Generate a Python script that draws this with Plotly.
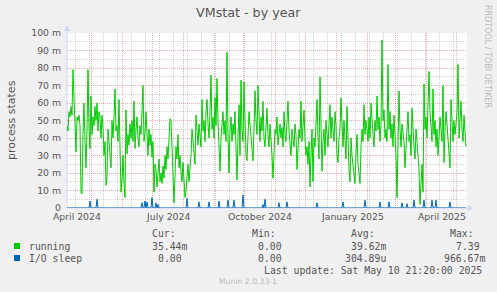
import pandas as pd
import plotly.graph_objects as go

# ---------------- data ----------------
start_date = "2024-04-07"
end_date = "2025-05-12"

# daily "running" values in milli-units (m)
running_m = [
    47, 44, 55, 52, 58, 53, 79, 60, 50, 32, 52, 50, 53, 47, 9, 8, 42, 60, 38, 23,
    45, 79, 45, 34, 64, 42, 52, 47, 58, 50, 60, 44, 55, 52, 40, 53, 46, 30, 38, 13,
    18, 45, 38, 30, 23, 50, 40, 52, 68, 44, 47, 38, 62, 35, 9, 16, 30, 14, 6, 56,
    31, 42, 36, 48, 40, 50, 38, 61, 34, 45, 52, 40, 35, 47, 42, 55, 70, 38, 43, 55,
    40, 30, 45, 36, 42, 29, 38, 9, 25, 22, 12, 18, 28, 15, 20, 14, 24, 17, 30, 22,
    35, 28, 40, 51, 50, 30, 10, 3, 18, 35, 28, 42, 23, 30, 20, 15, 26, 12, 6, 10,
    18, 25, 15, 22, 30, 45, 38, 32, 25, 53, 42, 36, 48, 41, 35, 62, 44, 50, 38, 55,
    62, 48, 40, 55, 76, 45, 52, 40, 63, 47, 74, 50, 35, 21, 40, 48, 55, 42, 50, 38,
    89, 40, 20, 45, 52, 38, 48, 42, 55, 35, 16, 40, 59, 30, 73, 45, 38, 72, 45, 30,
    27, 42, 55, 48, 40, 36, 27, 45, 67, 50, 42, 70, 48, 38, 52, 44, 61, 40, 35, 50,
    57, 42, 35, 48, 40, 30, 17, 38, 45, 42, 52, 36, 44, 48, 40, 46, 35, 55, 42, 38,
    50, 61, 44, 38, 30, 45, 40, 35, 48, 42, 22, 36, 45, 40, 61, 38, 45, 56, 40, 30,
    35, 25, 38, 12, 30, 45, 15, 40, 35, 48, 62, 40, 28, 75, 45, 21, 38, 45, 30, 50,
    42, 35, 48, 59, 40, 52, 45, 38, 55, 47, 30, 26, 40, 45, 63, 42, 35, 50, 38, 28,
    58, 35, 22, 15, 40, 30, 25, 18, 14, 32, 42, 25, 20, 14, 35, 45, 38, 59, 42, 50,
    45, 38, 52, 40, 60, 48, 42, 35, 50, 44, 64, 45, 52, 38, 48, 96, 50, 56, 40, 45,
    38, 82, 45, 55, 40, 48, 35, 53, 42, 30, 6, 40, 67, 45, 35, 48, 42, 38, 23, 40,
    45, 55, 38, 42, 30, 57, 40, 35, 28, 45, 38, 30, 22, 2, 15, 25, 9, 71, 45, 52,
    40, 62, 78, 55, 45, 38, 68, 42, 50, 35, 45, 30, 40, 52, 45, 38, 70, 26, 45, 55,
    48, 40, 30, 23, 62, 45, 38, 50, 42, 48, 55, 82, 40, 50, 61, 45, 38, 53, 42, 35,
]

# I/O sleep: zero except these days (m)
io_sleep_dates = [
    "2024-04-30", "2024-05-07", "2024-06-21", "2024-06-24", "2024-06-26",
    "2024-07-01", "2024-07-05", "2024-07-07", "2024-08-05", "2024-08-17",
    "2024-08-27", "2024-09-06", "2024-09-15", "2024-09-21", "2024-09-30",
    "2024-10-20", "2024-10-22", "2024-11-05", "2024-11-13", "2024-12-13",
    "2025-01-08", "2025-01-30", "2025-02-14", "2025-02-23", "2025-03-08",
    "2025-03-13", "2025-03-20", "2025-03-30", "2025-04-07", "2025-04-11",
    "2025-04-25",
]
io_sleep_m = [
    4, 5, 3, 4, 3.5,
    6, 3, 2, 5.5, 3.5,
    3.5, 4, 4.5, 4.5, 7.5,
    2, 5, 3, 3.5, 3,
    3.5, 4.5, 3.5, 3.5, 3,
    2.5, 4.5, 4.5, 4.5, 4.5,
    3.5,
]

month_grid_start = "2024-05-01"
week_grid_start = "2024-04-15"
x_label_dates = ["2024-04-17", "2024-07-17", "2024-10-17", "2025-01-17", "2025-04-17"]
x_label_text = ["April 2024", "July 2024", "October 2024", "January 2025", "April 2025"]
y_tick_vals = [0, 10, 20, 30, 40, 50, 60, 70, 80, 90, 100]
y_tick_text = ["0", "10 m", "20 m", "30 m", "40 m", "50 m", "60 m", "70 m", "80 m", "90 m", "100 m"]

series_names = ["running", "I/O sleep"]
series_colors = ["#00cc00", "#0066b3"]
legend_header = ["Cur:", "Min:", "Avg:", "Max:"]
running_stats = ["35.44m", "0.00", "39.62m", "7.39"]
io_stats = ["0.00", "0.00", "304.89u", "966.67m"]
last_update = "Last update: Sat May 10 21:20:00 2025"

# ---------------- build ----------------
dates = pd.date_range(start_date, periods=len(running_m), freq="D")
io_series = pd.Series(0.0, index=dates)
io_series.loc[pd.to_datetime(io_sleep_dates)] = io_sleep_m

# plot area in pixels
L, R, T, B = 67, 467, 33, 208
W, H = 497, 292


def px(x):
    return (x - L) / (R - L)


def py(y):
    return (B - y) / (B - T)


FONT = "DejaVu Sans"
MONO = "DejaVu Sans Mono"
TXT = "#555555"
AXC = "#cfd6f8"
MGRID = "rgba(230,90,90,0.5)"
GRID = "rgba(150,150,150,0.42)"

fig = go.Figure()
fig.add_trace(go.Scatter(x=dates, y=running_m, mode="lines", name=series_names[0],
                         line=dict(color=series_colors[0], width=1), hoverinfo="skip"))
fig.add_trace(go.Scatter(x=dates, y=io_series.values, mode="lines", name=series_names[1],
                         line=dict(color=series_colors[1], width=1), hoverinfo="skip"))

shapes = [
    # axes
    dict(type="line", xref="paper", yref="paper", x0=0, x1=0, y0=0, y1=py(30),
         line=dict(color=AXC, width=1), layer="between"),
    dict(type="line", xref="paper", yref="paper", x0=0, x1=px(470), y0=0, y1=0,
         line=dict(color=AXC, width=1), layer="between"),
    # arrows
    dict(type="path", xref="paper", yref="paper",
         path=f"M {px(64)},{py(31)} L {px(70)},{py(31)} L {px(67)},{py(25)} Z",
         fillcolor=AXC, line=dict(width=0)),
    dict(type="path", xref="paper", yref="paper",
         path=f"M {px(468)},{py(205)} L {px(468)},{py(211)} L {px(474)},{py(208)} Z",
         fillcolor=AXC, line=dict(width=0)),
    # legend swatches
    dict(type="rect", xref="paper", yref="paper", x0=px(14), x1=px(20), y0=py(243), y1=py(249),
         fillcolor=series_colors[0], line=dict(width=0)),
    dict(type="rect", xref="paper", yref="paper", x0=px(14), x1=px(20), y0=py(255), y1=py(261),
         fillcolor=series_colors[1], line=dict(width=0)),
]

ann = []
# title
ann.append(dict(text="VMstat - by year", xref="paper", yref="paper", x=px(248.5), y=py(13),
                xanchor="center", yanchor="middle", showarrow=False,
                font=dict(family=FONT, size=12.7, color=TXT)))
# y title
ann.append(dict(text="process states", xref="paper", yref="paper", x=px(11), y=py(120),
                xanchor="center", yanchor="middle", textangle=-90, showarrow=False,
                font=dict(family=FONT, size=11, color=TXT)))
# watermark
ann.append(dict(text="RRDTOOL / TOBI OETIKER", xref="paper", yref="paper", x=px(488), y=py(56),
                xanchor="center", yanchor="middle", textangle=90, showarrow=False,
                font=dict(family=FONT, size=8, color="#bbbbbb")))
ann.append(dict(text="Munin 2.0.33-1", xref="paper", yref="paper", x=px(248), y=py(281),
                xanchor="center", yanchor="middle", showarrow=False,
                font=dict(family=FONT, size=7.7, color="#bbbbbb")))
# x labels
for d, t in zip(x_label_dates, x_label_text):
    ann.append(dict(text=t, xref="x", yref="paper", x=d, y=py(216.5), xanchor="center",
                    yanchor="middle", showarrow=False, font=dict(family=FONT, size=9.3, color=TXT)))

# legend table
col_x = [150, 250, 349, 448]
for cx, h in zip(col_x, legend_header):
    ann.append(dict(text=h, xref="paper", yref="paper", x=px(cx), y=py(233.5), xanchor="left",
                    yanchor="middle", showarrow=False, font=dict(family=MONO, size=9.8, color=TXT)))
rows = [(246, series_names[0], running_stats, [150, 256, 349, 454]),
        (258, series_names[1], io_stats, [156, 256, 343, 442])]
for ry, name, stats, xs in rows:
    ann.append(dict(text=name, xref="paper", yref="paper", x=px(27), y=py(ry), xanchor="left",
                    yanchor="middle", showarrow=False, font=dict(family=MONO, size=9.8, color=TXT)))
    for sx, s in zip(xs, stats):
        ann.append(dict(text=s, xref="paper", yref="paper", x=px(sx), y=py(ry), xanchor="left",
                        yanchor="middle", showarrow=False, font=dict(family=MONO, size=9.8, color=TXT)))
ann.append(dict(text=last_update, xref="paper", yref="paper", x=px(262), y=py(270), xanchor="left",
                yanchor="middle", showarrow=False, font=dict(family=MONO, size=9.8, color=TXT)))

fig.update_layout(
    width=W, height=H, autosize=False,
    margin=dict(l=L, r=W - R, t=T, b=H - B, pad=0),
    paper_bgcolor="#f0f0f0", plot_bgcolor="#ffffff",
    showlegend=False,
    shapes=shapes, annotations=ann,
    xaxis=dict(type="date", range=[start_date, end_date], showline=False, zeroline=False,
               tickmode="linear", tick0=month_grid_start, dtick="M1", showticklabels=False, ticks="",
               showgrid=True, gridcolor=MGRID, griddash="1px,1px", gridwidth=1,
               minor=dict(tick0=week_grid_start, dtick=14 * 86400000, showgrid=True,
                          gridcolor=GRID, griddash="1px,1px", gridwidth=1, ticks=""),
               fixedrange=True),
    yaxis=dict(range=[0, 100], showline=False, zeroline=False, tickmode="array",
               tickvals=y_tick_vals, ticktext=y_tick_text, ticks="",
               tickfont=dict(family=FONT, size=9.3, color=TXT), ticklabelstandoff=5,
               showgrid=True, gridcolor=MGRID, griddash="1px,1px", gridwidth=1,
               minor=dict(tickmode="linear", tick0=5, dtick=10, showgrid=True,
                          gridcolor=GRID, griddash="1px,1px", gridwidth=1, ticks=""),
               fixedrange=True),
)

fig.write_html("out.html", config={"displayModeBar": False, "staticPlot": True})
